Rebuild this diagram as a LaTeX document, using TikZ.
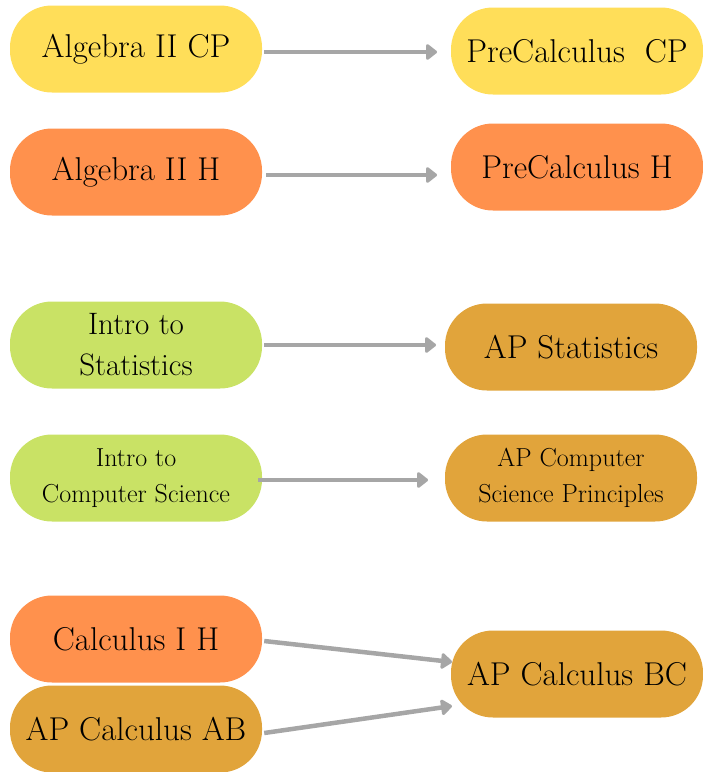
\documentclass[tikz,border=0pt]{standalone}
\usepackage{fontspec}
\usetikzlibrary{arrows.meta}
\definecolor{cyellow}{HTML}{FFDE59}
\definecolor{corange}{HTML}{FF914D}
\definecolor{cgreen}{HTML}{C9E265}
\definecolor{cgold}{HTML}{E1A43B}
\definecolor{carrow}{HTML}{A6A6A6}
\begin{document}
\begin{tikzpicture}[x=1pt,y=-1pt,
  course/.style={rounded corners=42pt, minimum width=252pt, minimum height=87pt,
    inner sep=0pt, align=center, text=black, font=\fontsize{33}{40}\selectfont},
  twoline/.style={font=\fontsize{31}{41}\selectfont},
  small/.style={font=\fontsize{26}{36}\selectfont},
  flow/.style={draw=carrow, line width=4.5pt,
    -{Triangle[round, length=12pt, width=18pt]}}]
\useasboundingbox (0,0) rectangle (703,772);
\node[course, fill=cyellow] (alg2cp) at (136,49) {Algebra II CP};
\node[course, fill=cyellow] (precp) at (577,51) {PreCalculus\ \ CP};
\node[course, fill=corange] (alg2h) at (136,172) {Algebra II H};
\node[course, fill=corange] (preh) at (577,167) {PreCalculus H};
\node[course, twoline, fill=cgreen] (introstat) at (136,345) {Intro to\\Statistics};
\node[course, fill=cgold] (apstat) at (571,347) {AP Statistics};
\node[course, small, fill=cgreen] (introcs) at (136,478) {Intro to\\Computer Science};
\node[course, small, fill=cgold] (apcsp) at (571,478) {AP Computer\\Science Principles};
\node[course, fill=corange] (calc1h) at (136,639) {Calculus I H};
\node[course, fill=cgold] (apab) at (136,729) {AP Calculus AB};
\node[course, fill=cgold] (apbc) at (577,674) {AP Calculus BC};
\coordinate (bcin1) at (452,662);
\coordinate (bcin2) at (452,706);
\draw[flow] (alg2cp.east) ++(2,3) -- (437,52);
\draw[flow] (alg2h.east) ++(4,3) -- (437,175);
\draw[flow] (introstat.east) ++(2,0) -- (436,345);
\draw[flow] (introcs.east) ++(-4,2) -- (428,480);
\draw[flow] (calc1h.east) ++(2,2) -- (bcin1);
\draw[flow] (apab.east) ++(2,4) -- (bcin2);
\end{tikzpicture}
\end{document}
